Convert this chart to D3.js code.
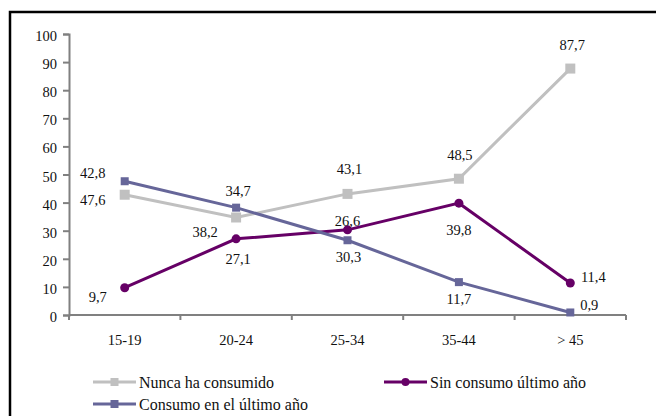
<!DOCTYPE html>
<html>
<head>
<meta charset="utf-8">
<script src="https://cdn.jsdelivr.net/npm/d3@7"></script>
<style>
  html, body { margin: 0; padding: 0; background: #ffffff; }
</style>
</head>
<body>
<div id="chart"></div>
<script>
// -------------------------------------------------------------------------
// Data

const ageGroups = ['15-19', '20-24', '25-34', '35-44', '> 45'];

const nuncaHaConsumido = [42.8, 34.7, 43.1, 48.5, 87.7];
const sinConsumoUltimoAno = [9.7, 27.1, 30.3, 39.8, 11.4];
const consumoUltimoAno = [47.6, 38.2, 26.6, 11.7, 0.9];

const yTicks = [0, 10, 20, 30, 40, 50, 60, 70, 80, 90, 100];

const seriesNames = ['Nunca ha consumido', 'Sin consumo último año', 'Consumo en el último año'];

// -------------------------------------------------------------------------
// Styles (kept apart from the values)

const fontFamily = '"Liberation Serif", "Times New Roman", Tinos, "DejaVu Serif", serif';
const fontSize = '14.5px';
const legendFontSize = '16px';

const seriesStyles = [
  { color: '#c0c0c0', marker: 'square', size: 10 },
  { color: '#660066', marker: 'circle', size: 4.5 },
  { color: '#666699', marker: 'square', size: 8 }
];

// label offsets from each point, in px [dx, dy]
const labelOffsets = [
  [[-32, -22], [2, -26], [2, -25], [1, -24], [2, -24]],
  [[-27, 9], [2, 20], [1, 27], [0, 27], [23, -6]],
  [[-32, 19], [-31, 24], [0, -19], [0, 17], [19, -7]]
];

const width = 656;
const height = 416;
const margin = { left: 69, right: 30, top: 34, bottom: 101 };

const formatValue = (v) => d3.format('.1f')(v).replace('.', ',');

// -------------------------------------------------------------------------
// Chart

const svg = d3.select('#chart').append('svg')
  .attr('width', width)
  .attr('height', height)
  .attr('font-family', fontFamily)
  .attr('font-size', fontSize);

// frame (top and left edges only show in the crop)
svg.append('path')
  .attr('d', `M10,${height} L10,12 L${width},12`)
  .attr('fill', 'none')
  .attr('stroke', '#000000')
  .attr('stroke-width', 2.5);

const x = d3.scaleBand()
  .domain(ageGroups)
  .range([margin.left, width - margin.right])
  .padding(0);

const y = d3.scaleLinear()
  .domain([0, 100])
  .range([height - margin.bottom, margin.top]);

const cx = (d) => x(d) + x.bandwidth() / 2;

// y axis
const yAxis = svg.append('g')
  .attr('transform', `translate(${margin.left},0)`)
  .call(d3.axisLeft(y).tickValues(yTicks).tickSize(6).tickPadding(6));

// x axis, ticks on the band edges
const xEdges = ageGroups.map(d => x(d)).concat([x(ageGroups[ageGroups.length - 1]) + x.bandwidth()]);
const xAxis = svg.append('g')
  .attr('transform', `translate(0,${y(0)})`);
xAxis.append('line')
  .attr('x1', margin.left)
  .attr('x2', width - margin.right)
  .attr('y1', 0)
  .attr('y2', 0);
xAxis.selectAll('.edge-tick')
  .data(xEdges)
  .enter().append('line')
  .attr('class', 'edge-tick')
  .attr('x1', d => d)
  .attr('x2', d => d)
  .attr('y1', 0)
  .attr('y2', 5);
xAxis.selectAll('.cat-label')
  .data(ageGroups)
  .enter().append('text')
  .attr('class', 'cat-label')
  .attr('x', d => cx(d))
  .attr('y', 25)
  .attr('text-anchor', 'middle')
  .attr('dominant-baseline', 'central')
  .attr('fill', '#111111')
  .text(d => d);

[yAxis, xAxis].forEach(axis => {
  axis.selectAll('path.domain').attr('stroke', '#808080').attr('stroke-width', 2);
  axis.selectAll('line').attr('stroke', '#808080').attr('stroke-width', 2);
});
yAxis.attr('font-family', fontFamily).attr('font-size', fontSize);
yAxis.selectAll('text').attr('dy', '0.45em').attr('fill', '#111111');

// series lines + markers
const allSeries = [nuncaHaConsumido, sinConsumoUltimoAno, consumoUltimoAno];

const line = d3.line()
  .x((d, i) => cx(ageGroups[i]))
  .y(d => y(d));

function drawMarker(g, style, px, py) {
  if (style.marker === 'circle') {
    g.append('circle')
      .attr('cx', px).attr('cy', py).attr('r', style.size)
      .attr('fill', style.color);
  } else {
    g.append('rect')
      .attr('x', px - style.size / 2).attr('y', py - style.size / 2)
      .attr('width', style.size).attr('height', style.size)
      .attr('fill', style.color);
  }
}

allSeries.forEach((values, s) => {
  let style = seriesStyles[s];
  let g = svg.append('g').attr('class', 'series-' + s);
  g.append('path')
    .datum(values)
    .attr('d', line)
    .attr('fill', 'none')
    .attr('stroke', style.color)
    .attr('stroke-width', 3);
  values.forEach((v, i) => {
    drawMarker(g, style, cx(ageGroups[i]), y(v));
  });
});

// data labels on top
allSeries.forEach((values, s) => {
  svg.append('g').selectAll('text')
    .data(values)
    .enter().append('text')
    .attr('x', (d, i) => cx(ageGroups[i]) + labelOffsets[s][i][0])
    .attr('y', (d, i) => y(d) + labelOffsets[s][i][1])
    .attr('text-anchor', 'middle')
    .attr('dominant-baseline', 'central')
    .attr('fill', '#111111')
    .text(d => formatValue(d));
});

// legend
const legendItems = [
  { name: seriesNames[0], style: seriesStyles[0], lx: 93, ly: 382 },
  { name: seriesNames[1], style: seriesStyles[1], lx: 384, ly: 382 },
  { name: seriesNames[2], style: seriesStyles[2], lx: 93, ly: 404 }
];
legendItems.forEach(item => {
  let g = svg.append('g').attr('class', 'legend-item');
  g.append('line')
    .attr('x1', item.lx).attr('x2', item.lx + 43)
    .attr('y1', item.ly).attr('y2', item.ly)
    .attr('stroke', item.style.color)
    .attr('stroke-width', 3);
  let legendStyle = Object.assign({}, item.style, { size: item.style.marker === 'circle' ? 4 : 8 });
  drawMarker(g, legendStyle, item.lx + 21.5, item.ly);
  g.append('text')
    .attr('x', item.lx + 46)
    .attr('y', item.ly)
    .attr('dominant-baseline', 'central')
    .attr('font-size', legendFontSize)
    .attr('fill', '#111111')
    .text(item.name);
});
</script>
</body>
</html>
